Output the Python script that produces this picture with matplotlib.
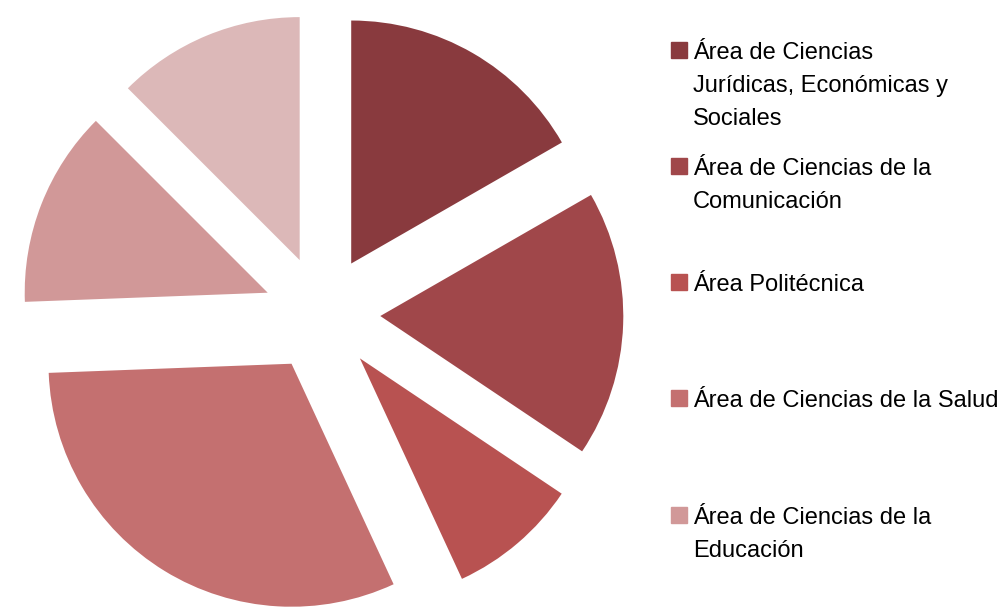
import matplotlib.pyplot as plt
import matplotlib.patches as patches

# Datos (porcentaje por área)
areas = [
    "Área de Ciencias\nJurídicas, Económicas y\nSociales",
    "Área de Ciencias de la\nComunicación",
    "Área Politécnica",
    "Área de Ciencias de la Salud",
    "Área de Ciencias de la\nEducación",
    "Otros",
]
valores = [16.7, 17.7, 8.7, 31.3, 13.1, 12.5]
colores = ["#893A3E", "#A0474A", "#B85251", "#C47070", "#D19898", "#DCB8B8"]

W, H = 1003, 607
fig = plt.figure(figsize=(W / 100, H / 100), dpi=100)
plt.rcParams['font.family'] = ['Liberation Sans', 'DejaVu Sans']

# Ejes de la torta: centro en (322, 314) px, radio 243 px
cx, cy, r = 322, H - 314, 243
half = 322
ax = fig.add_axes([(cx - half) / W, (cy - half) / H, 2 * half / W, 2 * half / H])
ax.pie(valores, colors=colores, startangle=90, counterclock=False,
       explode=[0.24] * len(valores), radius=1,
       wedgeprops=dict(linewidth=0))
L = half / r
ax.set_xlim(-L, L)
ax.set_ylim(-L, L)
ax.set_axis_off()

# Leyenda manual (solo las 5 entradas visibles)
y_entradas = [50, 166, 282, 398, 515]
for i, y in enumerate(y_entradas):
    fig.patches.append(patches.Rectangle((671 / W, (H - y - 8) / H), 16 / W, 16 / H,
                                         color=colores[i], transform=fig.transFigure))
    for k, linea in enumerate(areas[i].split("\n")):
        fig.text(693 / W, (H - (y + 9 + 33 * k)) / H, linea, fontsize=17,
                 va='baseline', ha='left', color='black')

fig.savefig("out.png", dpi=100)
